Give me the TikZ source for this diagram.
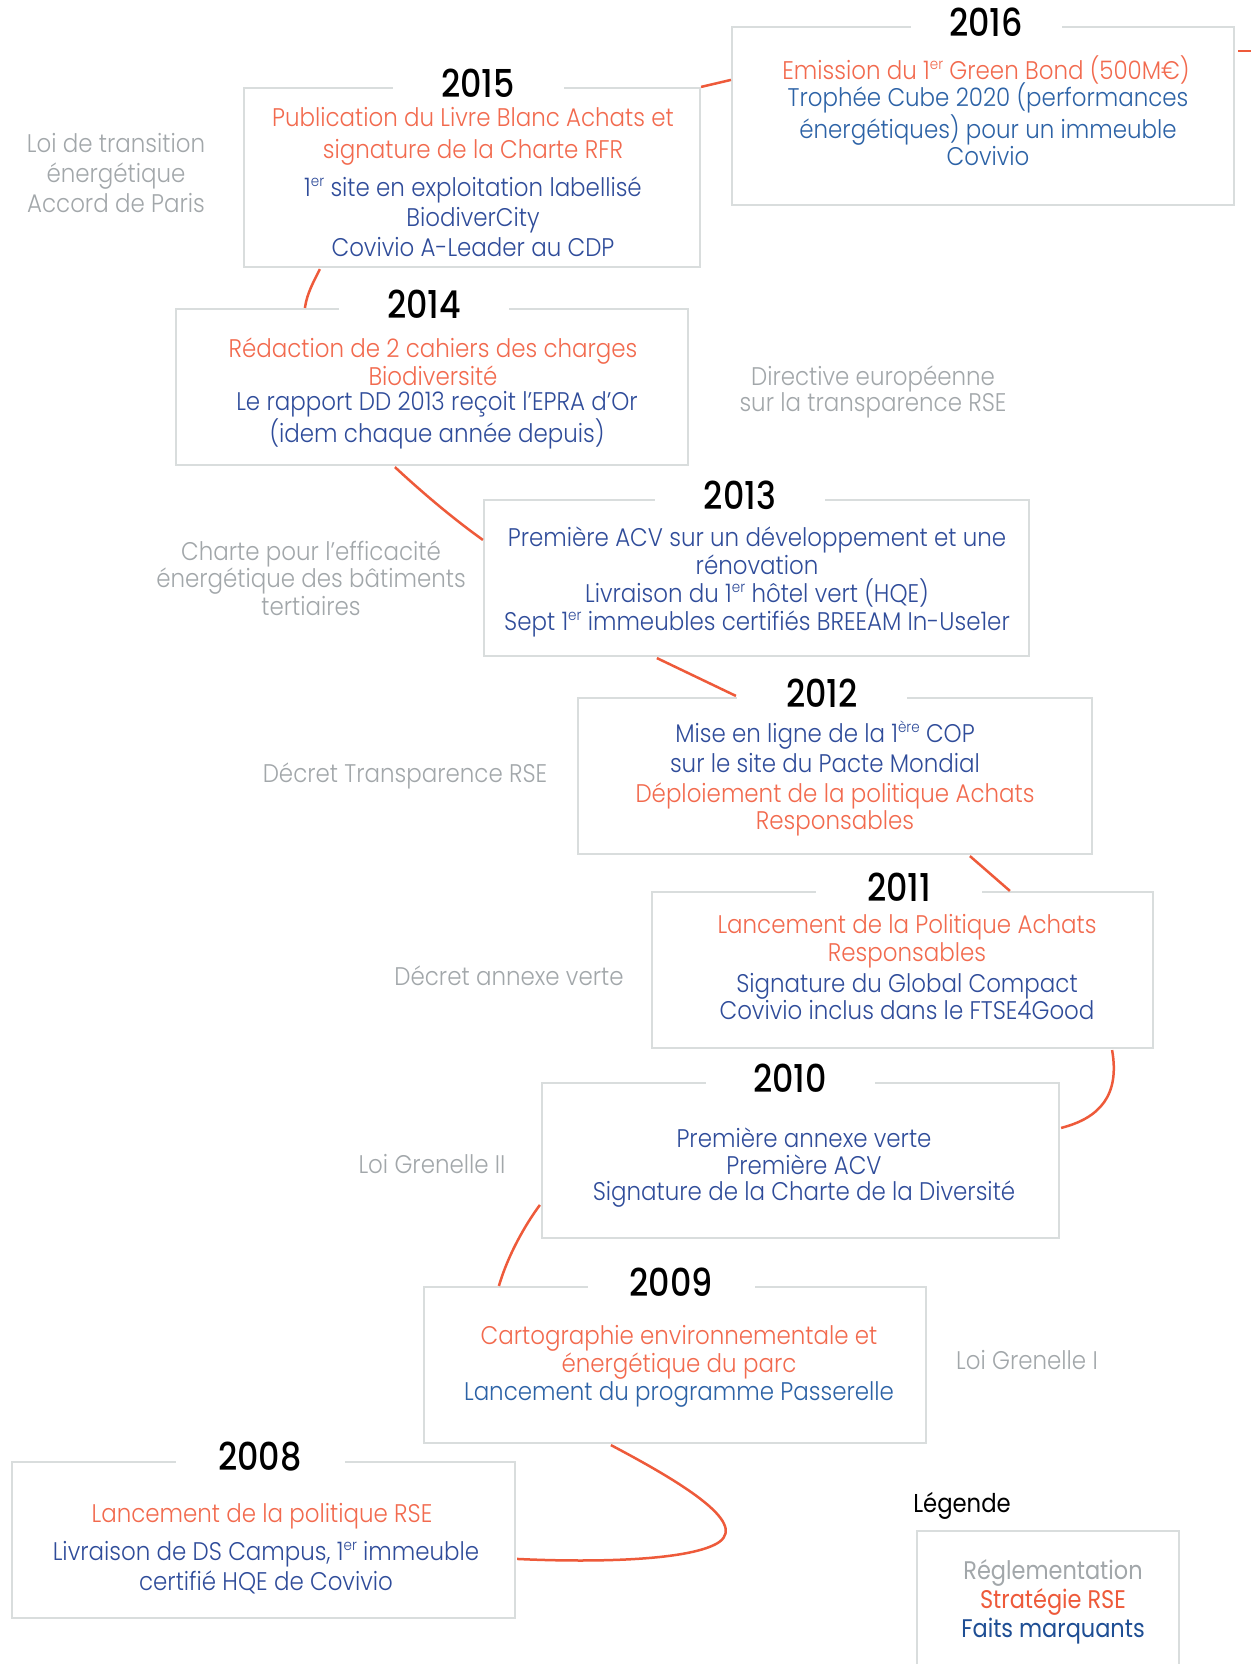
\documentclass[tikz,border=0pt]{standalone}
\usepackage{fontspec}
\usetikzlibrary{calc}
\setmainfont{Poppins}[UprightFont=* Light, FakeStretch=0.9]
\newfontfamily\yearfont{Poppins}[UprightFont=* Medium, FakeStretch=0.87]
\newfontfamily\regfont{Poppins}[FakeStretch=0.88]
\definecolor{lineor}{HTML}{EE5A3A}
\definecolor{txor}{HTML}{F26A4E}
\definecolor{txbl}{HTML}{2F4C9A}
\definecolor{txbltwo}{HTML}{2C62A6}
\definecolor{txblthree}{HTML}{1E4E94}
\definecolor{txgr}{HTML}{A2A7AA}
\definecolor{bxgr}{HTML}{D9DDDD}
\newcommand\supx[1]{\raisebox{0.72ex}{\fontsize{9}{9}\selectfont #1}}
\newcommand\er{\supx{er}}
\newcommand\yrbox[8]{% name x1 y1 x2 y2 year titlex gap
  \node[boxst, minimum width={(#4-#2)*0.6pt}, minimum height={(#5-#3)*0.6pt}] (#1) at ({(#2+#4)/2},{(#3+#5)/2}) {};
  \node[yearst, minimum width={#8*0.6pt}] (#1y) at (#7,{#3-5}) {#6};
}
\begin{document}
\begin{tikzpicture}[x=0.6pt,y=-0.6pt,
  boxst/.style={draw=bxgr, line width=1.3pt, inner sep=0pt, fill=white},
  yearst/.style={fill=white, inner sep=0pt, minimum height=20pt, font=\yearfont\fontsize{23}{25}\selectfont, text=black},
  txt/.style={align=center, inner sep=0pt, font=\fontsize{15.3}{#1}\selectfont},
  txt/.default=16.8,
  conn/.style={draw=lineor, line width=1.5pt}]
\clip (0,0) rectangle (1251,1664);
\fill[white] (0,0) rectangle (1251,1664);

% boxes
\yrbox{b2016}{732}{27}{1234}{205}{2016}{986}{151}
\yrbox{b2015}{244}{88}{700}{267}{2015}{478}{171}
\yrbox{b2014}{176}{309}{688}{465}{2014}{424}{170}
\yrbox{b2013}{484}{500}{1029}{656}{2013}{740}{170}
\yrbox{b2012}{578}{698}{1092}{854}{2012}{822}{170}
\yrbox{b2011}{652}{892}{1153}{1048}{2011}{899}{166}
\yrbox{b2010}{542}{1083}{1059}{1238}{2010}{790}{169}
\yrbox{b2009}{424}{1287}{926}{1443}{2009}{671}{167}
\yrbox{b2008}{12}{1462}{515}{1618}{2008}{260}{169}
\node[boxst, minimum width={262*0.6pt}, minimum height={170*0.6pt}, anchor=north west] (leg) at (916,1530) {};

% texts
\node[txt, text=txor] (t16a) at (986,70) {Emission du 1\er{} Green Bond (500M€)};
\node[txt=16.2, text=txbltwo] (t16b) at (988,124) {Trophée Cube 2020 (performances\\énergétiques) pour un immeuble\\Covivio};

\node[txt=19.2, text=txor] (t15a) at (473,136) {Publication du Livre Blanc Achats et\\signature de la Charte RFR};
\node[txt=18, text=txbl] (t15b) at (473,217) {1\er{} site en exploitation labellisé\\BiodiverCity\\Covivio A-Leader au CDP};

\node[txt, text=txor] (t14a) at (433,362) {Rédaction de 2 cahiers des charges\\Biodiversité};
\node[txt, text=txbl] (t14b) at (437,420) {Le rapport DD 2013 reçoit l’EPRA d’Or\\(idem chaque année depuis)};

\node[txt, text=txbl] (t13) at (757,582) {Première ACV sur un développement et une\\rénovation\\Livraison du 1\er{} hôtel vert (HQE)\\Sept 1\er{} immeubles certifiés BREEAM In-Use1er};

\node[txt=18, text=txbl] (t12a) at (825,747) {Mise en ligne de la 1\supx{ère} COP\\sur le site du Pacte Mondial};
\node[txt=16.2, text=txor] (t12b) at (835,809) {Déploiement de la politique Achats\\Responsables};

\node[txt, text=txor] (t11a) at (907,941) {Lancement de la Politique Achats\\Responsables};
\node[txt=16.2, text=txbl] (t11b) at (907,997) {Signature du Global Compact\\Covivio inclus dans le FTSE4Good};

\node[txt=15.9, text=txbl] (t10) at (804,1168) {Première annexe verte\\Première ACV\\Signature de la Charte de la Diversité};

\node[txt, text=txor] (t09a) at (679,1352) {Cartographie environnementale et\\énergétique du parc};
\node[txt, text=txbltwo] (t09b) at (679,1394) {Lancement du programme Passerelle};

\node[txt, text=txor] (t08a) at (262,1516) {Lancement de la politique RSE};
\node[txt=18, text=txbl] (t08b) at (266,1568) {Livraison de DS Campus, 1\er{} immeuble\\certifié HQE de Covivio};

% regulation labels
\node[txt=17.8, text=txgr] (r1) at (116,173) {Loi de transition\\énergétique\\Accord de Paris};
\node[txt=15.6, text=txgr] (r2) at (873,392) {Directive européenne\\sur la transparence RSE};
\node[txt=16.6, text=txgr] (r3) at (311,578) {Charte pour l’efficacité\\énergétique des bâtiments\\tertiaires};
\node[txt, text=txgr] (r4) at (405,776) {Décret Transparence RSE};
\node[txt, text=txgr] (r5) at (509,976) {Décret annexe verte};
\node[txt, text=txgr] (r6) at (432,1164) {Loi Grenelle II};
\node[txt, text=txgr] (r7) at (1027,1360) {Loi Grenelle I};

% legend
\node[inner sep=0pt, anchor=west, font=\regfont\fontsize{15.5}{17}\selectfont] (legt) at (913,1506) {Légende};
\node[inner sep=0pt, font=\regfont\fontsize{15.3}{17}\selectfont, text=txgr] (l1) at (1053,1573) {Réglementation};
\node[inner sep=0pt, font=\regfont\fontsize{15.3}{17}\selectfont, text=lineor] (l2) at (1053,1602) {Stratégie RSE};
\node[inner sep=0pt, font=\regfont\fontsize{15.3}{17}\selectfont, text=txblthree] (l3) at (1053,1631) {Faits marquants};

% connectors
\coordinate (cR) at ($(b2016.north east)+(3,25)$);
\draw[conn] (cR) -- ++(40,0);
\draw[conn] ($(b2016.north west)+(0,54)$) -- (b2015.north east);
\draw[conn] ($(b2015.south west)+(77,1)$) .. controls (314,281) and (307,293) .. ($(b2014.north west)+(130,0)$);
\draw[conn] ($(b2014.south west)+(220,1)$) .. controls (425,495) and (455,520) .. ($(b2013.north west)+(0,41)$);
\draw[conn] ($(b2013.south west)+(174,1)$) -- ($(b2012.north west)+(159,-1)$);
\draw[conn] ($(b2012.south west)+(393,1)$) -- ($(b2011.north west)+(359,0)$);
\draw[conn] ($(b2011.south east)+(-42,1)$) .. controls (1120,1095) and (1100,1118) .. ($(b2010.north east)+(1,46)$);
\draw[conn] ($(b2010.north west)+(-1,123)$) .. controls (525,1225) and (508,1255) .. ($(b2009.north west)+(76,0)$);
\draw[conn] ($(b2009.south west)+(188,1)$) .. controls (700,1492) and (750,1528) .. (714,1545) .. controls (678,1562) and (580,1562) .. ($(b2008.north east)+(1,98)$);
\end{tikzpicture}
\end{document}
